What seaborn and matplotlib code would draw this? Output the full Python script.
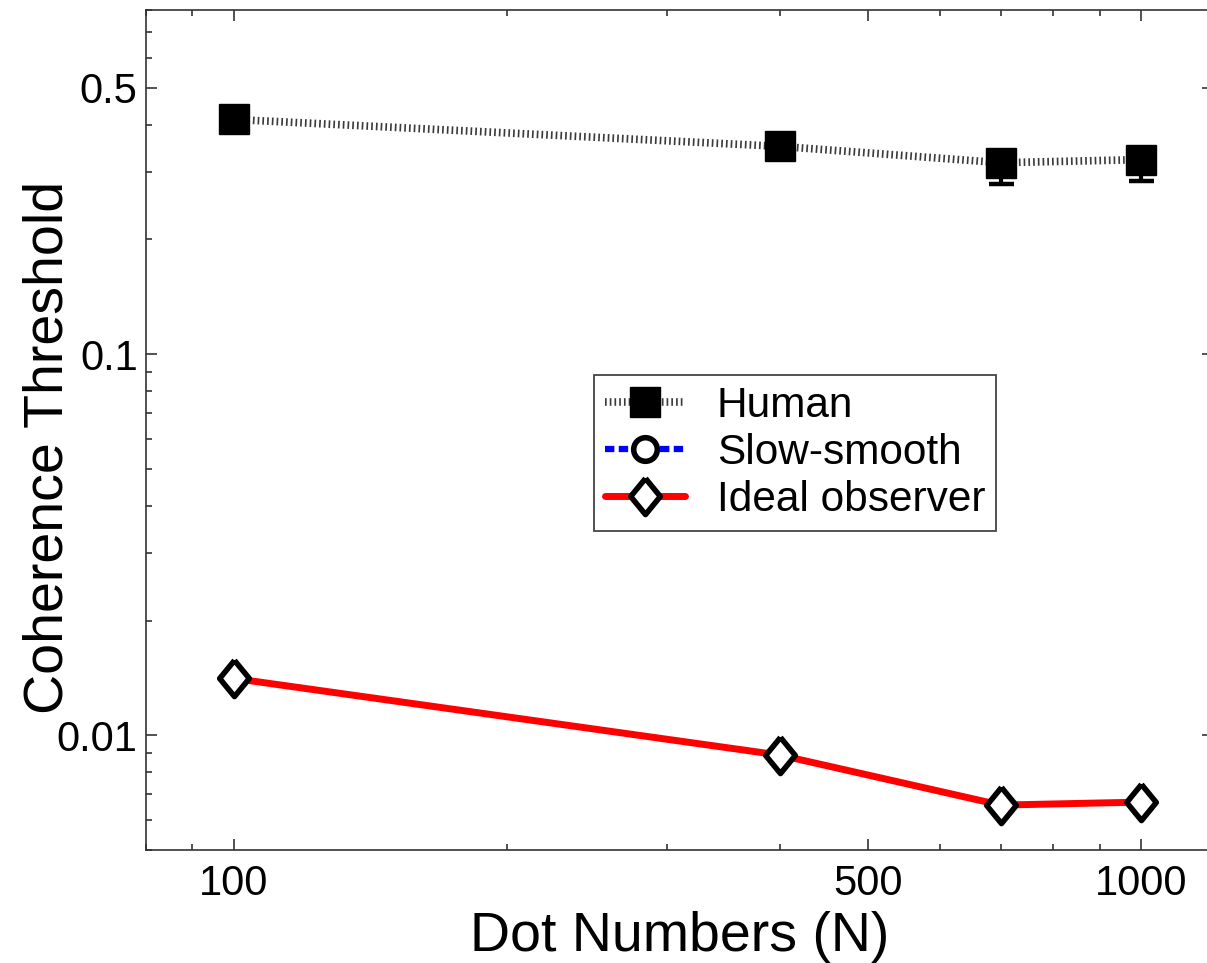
import numpy as np
import pandas as pd
import matplotlib
matplotlib.use("Agg")
import matplotlib.pyplot as plt
from matplotlib.ticker import FixedLocator, FixedFormatter, LogLocator, NullFormatter
import seaborn as sns

# values
dot_numbers = [100, 400, 700, 1000]
human = [0.413, 0.351, 0.318, 0.324]
human_err_low = [0.012, 0.012, 0.038, 0.040]
human_err_high = [0.012, 0.012, 0.018, 0.018]
ideal = [0.0141, 0.00887, 0.00656, 0.00668]

x_ticks = [100, 500, 1000]
x_tick_labels = ["100", "500", "1000"]
y_ticks = [0.01, 0.1, 0.5]
y_tick_labels = ["0.01", "0.1", "0.5"]

sns.set_style("ticks")
plt.rcParams['font.family'] = ['Liberation Sans', 'DejaVu Sans']

human_df = pd.DataFrame({'N': dot_numbers, 'threshold': human})
ideal_df = pd.DataFrame({'N': dot_numbers, 'threshold': ideal})

# tall thin diamond like the original
diamond = [(0, 1), (0.82, 0), (0, -1), (-0.82, 0), (0, 1)]

fig = plt.figure(figsize=(12.07, 9.63), dpi=100)
ax = fig.add_axes([0.121, 0.1173, 0.884, 0.8723])

ax.errorbar(dot_numbers, human, yerr=[human_err_low, human_err_high], fmt='none',
            ecolor='black', elinewidth=3, capsize=9, capthick=3.2,
            label='_nolegend_', zorder=2)
sns.lineplot(data=human_df, x='N', y='threshold', ax=ax, color='#3a3a3a',
             linewidth=5.5, linestyle=(0, (0.22, 0.4)), marker='s', markersize=21,
             markerfacecolor='black', markeredgecolor='black', markeredgewidth=1,
             label='Human', zorder=3)
# slow-smooth model only appears in the legend
ax.plot([], [], color='blue', linewidth=4.5, linestyle=(0, (1.5, 0.7)), marker='o',
        markersize=17, markerfacecolor='white', markeredgecolor='black',
        markeredgewidth=4, label='Slow-smooth')
sns.lineplot(data=ideal_df, x='N', y='threshold', ax=ax, color='red',
             linewidth=5, marker=diamond, markersize=26, markerfacecolor='white',
             markeredgecolor='black', markeredgewidth=4, label='Ideal observer',
             zorder=3)

ax.set_xscale('log')
ax.set_yscale('log')
ax.set_xlim(80, 1200)
ax.set_ylim(0.005, 0.8)

ax.xaxis.set_major_locator(FixedLocator(x_ticks))
ax.xaxis.set_major_formatter(FixedFormatter(x_tick_labels))
ax.xaxis.set_minor_locator(LogLocator(base=10, subs=np.arange(2, 10)))
ax.xaxis.set_minor_formatter(NullFormatter())
ax.yaxis.set_major_locator(FixedLocator(y_ticks))
ax.yaxis.set_major_formatter(FixedFormatter(y_tick_labels))
ax.yaxis.set_minor_locator(LogLocator(base=10, subs=np.arange(2, 10)))
ax.yaxis.set_minor_formatter(NullFormatter())

ax.tick_params(which='both', direction='in', top=True, right=True,
               color='#222222', width=1.1, labelsize=30, labelcolor='black')
ax.tick_params(which='major', length=8)
ax.tick_params(which='minor', length=4.5)
ax.tick_params(axis='x', which='major', pad=10)
ax.tick_params(axis='y', which='major', pad=6)

for side in ['left', 'right', 'top', 'bottom']:
    ax.spines[side].set_visible(True)
    ax.spines[side].set_color('#333333')
    ax.spines[side].set_linewidth(1.2)

ax.set_xlabel("Dot Numbers (N)", fontsize=40, color='black')
ax.set_ylabel("Coherence Threshold", fontsize=40, color='black')
ax.xaxis.set_label_coords(0.5, -0.0726)
ax.yaxis.set_label_coords(-0.0675, 0.479)

handles, labels = ax.get_legend_handles_labels()
order = ['Human', 'Slow-smooth', 'Ideal observer']
by_label = dict(zip(labels, handles))
leg = ax.legend([by_label[k] for k in order], order, loc='upper left',
                bbox_to_anchor=(0.4199, 0.5655), borderaxespad=0, fontsize=30.5,
                frameon=True, fancybox=False, framealpha=1, edgecolor='#444444',
                handlelength=1.9, handletextpad=0.75, labelspacing=0.17,
                borderpad=0.25)
leg.get_frame().set_linewidth(1.3)
for t in leg.get_texts():
    t.set_color('black')

fig.savefig("out.png", dpi=100)
